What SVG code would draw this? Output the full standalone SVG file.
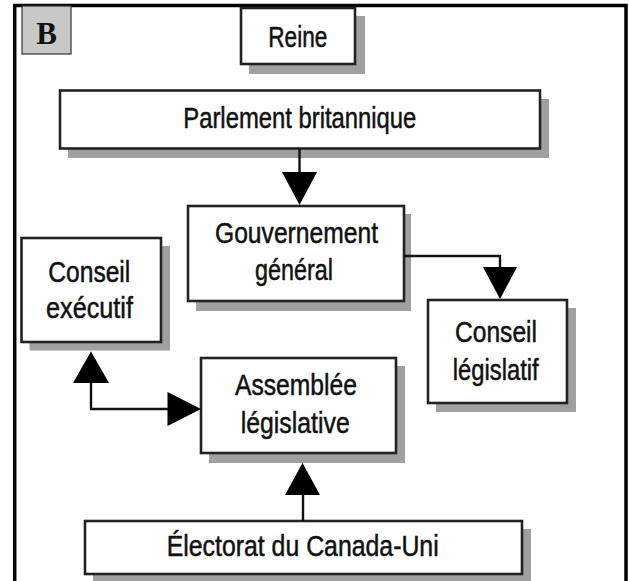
<svg xmlns="http://www.w3.org/2000/svg" width="629" height="581" viewBox="0 0 629 581">
<style>
.box{fill:#fff;stroke:#222;stroke-width:2.6}
.sh{fill:#a0a0a0}
.t{font-family:"Liberation Sans",Arial,sans-serif;font-size:29px;fill:#111;stroke:#111;stroke-width:0.5}
.ln{fill:none;stroke:#111;stroke-width:2.4}
.ah{fill:#000}
</style>
<rect width="629" height="581" fill="#fff"/>
<path d="M14.7,581 V5.5 H626 V581" fill="none" stroke="#000" stroke-width="3.5"/>
<g id="label-b">
<rect x="22" y="6" width="49" height="48" fill="#c8c8c8" stroke="#333" stroke-width="1.2"/>
<text x="46.5" y="44" text-anchor="middle" font-family="'Liberation Serif','Times New Roman',serif" font-weight="bold" font-size="31" fill="#111">B</text>
</g>
<g id="reine">
<rect class="sh" x="249" y="16" width="116" height="58"/>
<rect class="box" x="241" y="8" width="114" height="56"/>
<text class="t" x="268.3" y="46.7" textLength="59" lengthAdjust="spacingAndGlyphs">Reine</text>
</g>
<g id="parlement">
<rect class="sh" x="68" y="99" width="481" height="59"/>
<rect class="box" x="60" y="90.5" width="480" height="58"/>
<text class="t" x="183.3" y="128.3" textLength="233" lengthAdjust="spacingAndGlyphs">Parlement britannique</text>
</g>
<g id="gouvernement">
<rect class="sh" x="196" y="214" width="215" height="97"/>
<rect class="box" x="188" y="206" width="216" height="95"/>
<text class="t" x="215" y="243" textLength="163" lengthAdjust="spacingAndGlyphs">Gouvernement</text>
<text class="t" x="255" y="280" textLength="78" lengthAdjust="spacingAndGlyphs">général</text>
</g>
<g id="conseil-executif">
<rect class="sh" x="29.5" y="246" width="140.5" height="104.5"/>
<rect class="box" x="21.5" y="238" width="139.5" height="104"/>
<text class="t" x="48.3" y="282.3" textLength="82" lengthAdjust="spacingAndGlyphs">Conseil</text>
<text class="t" x="46" y="318.3" textLength="87" lengthAdjust="spacingAndGlyphs">exécutif</text>
</g>
<g id="conseil-legislatif">
<rect class="sh" x="436" y="308" width="140" height="104"/>
<rect class="box" x="428" y="300" width="139" height="103"/>
<text class="t" x="455" y="341.7" textLength="82" lengthAdjust="spacingAndGlyphs">Conseil</text>
<text class="t" x="452.7" y="380" textLength="86" lengthAdjust="spacingAndGlyphs">législatif</text>
</g>
<g id="assemblee">
<rect class="sh" x="209" y="366" width="196" height="97"/>
<rect class="box" x="201" y="358" width="195" height="95"/>
<text class="t" x="235" y="395" textLength="122" lengthAdjust="spacingAndGlyphs">Assemblée</text>
<text class="t" x="240.7" y="432.7" textLength="109" lengthAdjust="spacingAndGlyphs">législative</text>
</g>
<g id="electorat">
<rect class="sh" x="93" y="529" width="438" height="52"/>
<rect class="box" x="85" y="521" width="437" height="53"/>
<text class="t" x="166.7" y="556" textLength="272" lengthAdjust="spacingAndGlyphs">Électorat du Canada-Uni</text>
</g>
<g id="connectors">
<line class="ln" x1="299.5" y1="149" x2="299.5" y2="173"/>
<polygon class="ah" points="282,172 317,172 299.5,205"/>
<path class="ln" d="M404,256 H500 V268"/>
<polygon class="ah" points="483,267 517,267 500,299"/>
<path class="ln" d="M91,382 V409 H169"/>
<polygon class="ah" points="73,383 109,383 91,351.5"/>
<polygon class="ah" points="167.5,392 167.5,426 201,409"/>
<line class="ln" x1="303" y1="521" x2="303" y2="494"/>
<polygon class="ah" points="285,495 320,495 302.5,463"/>
</g>
</svg>
